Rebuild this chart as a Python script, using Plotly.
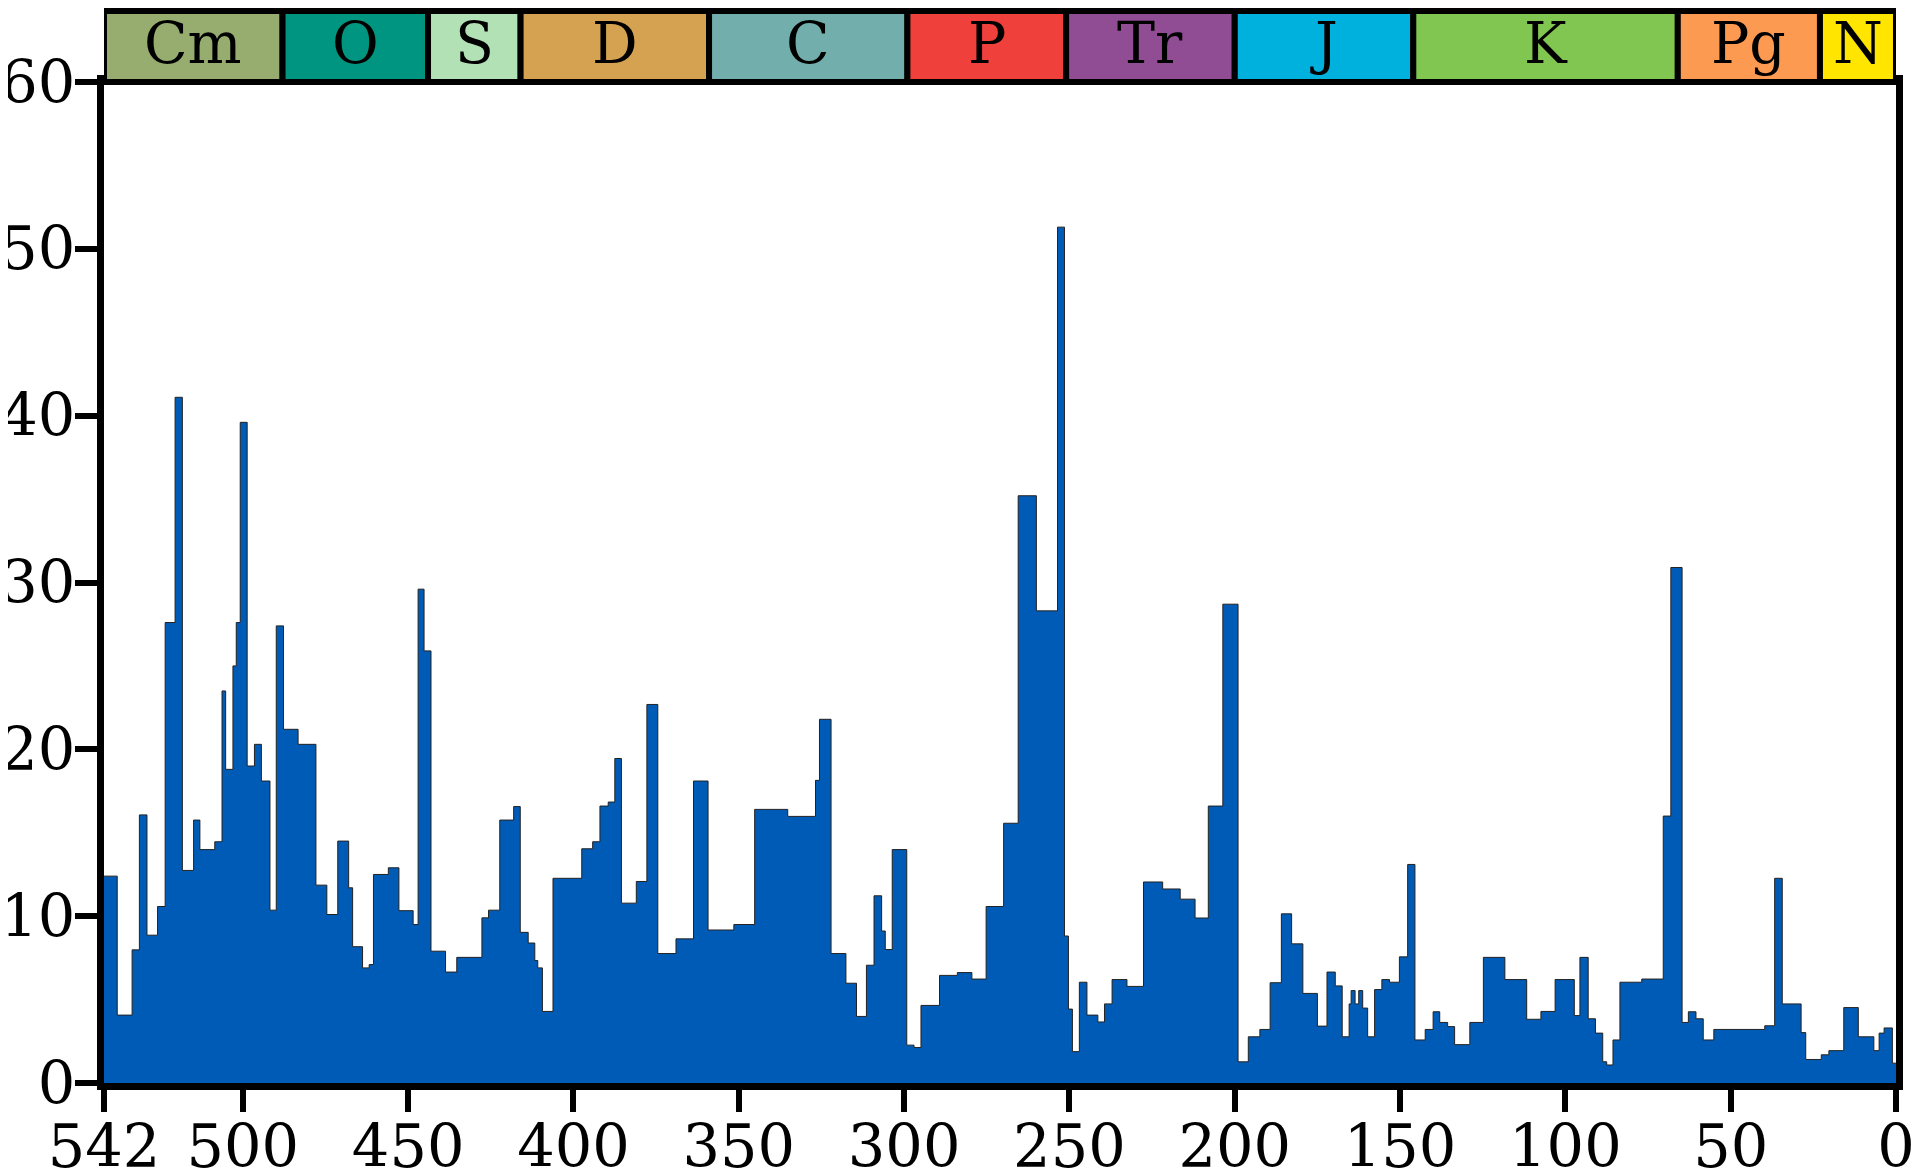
import plotly.graph_objects as go

# Step boundaries (older edge of each interval, Ma) and extinction intensity (%)
ages = [542, 538, 533.5, 531.3, 529, 525.8, 523.5, 520.5, 518.3, 514.9, 513, 508.5, 506.3, 505.2,
        503, 502, 500.8, 498.7, 496.5, 494.4, 491.8, 489.9, 487.7, 483.3, 477.9, 474.6, 471.3,
        468, 466.8, 463.8, 461.8, 460.5, 456, 452.8, 448.5, 447, 445.2, 443.1, 438.7, 435.3,
        427.7, 425.7, 422.3, 418.1, 416.1, 413.7, 411.7, 410.8, 409.4, 406.2,
        397.5, 394.2, 392, 389.5, 387.5, 385.5, 381, 377.8, 374.5, 369, 363.7, 359.3, 351.5,
        345.2, 335.2, 326.8, 325.6, 322.1, 317.6, 314.4, 311.4, 309.1, 306.8, 305.7, 303.6,
        299.2, 297, 294.9, 289.3, 283.9, 279.5, 275.2,
        269.9, 265.5, 260, 253.6, 251.5, 250.3, 249.1, 247, 244.7, 241.4, 239.4, 237.1, 232.6,
        227.6, 221.8, 216.5, 212, 208, 203.6, 199, 195.9, 192.4, 189.3, 185.9, 182.8, 179.4,
        175, 172.1, 169.6, 167.5, 165.4, 164.8, 163.6, 162.5, 161.3, 159.8, 157.7, 155.5,
        153.2, 150.2, 147.7, 145.5, 142.4, 140, 138,
        135.6, 133.5, 128.9, 124.8, 118.3, 111.7, 107.4, 103.1, 97.3, 95.6, 93.1, 90.9, 88.7,
        87.5, 85.6, 83.5, 76.9, 70.4, 68.1, 64.7, 62.8, 60.5, 58.3, 55.1, 39.7, 36.7, 34.4,
        28.7, 27.3, 22.6, 20.3, 15.8, 11.4, 6.7, 5.1, 3.6, 1.1, 0]
intensity = [12.4, 4.07, 7.98, 16.07, 8.86, 10.58, 27.6, 41.1, 12.74, 15.76, 13.99, 14.46, 23.5, 18.8,
             25.0, 27.6, 39.6, 19.0, 20.3, 18.1, 10.36, 27.4, 21.2, 20.3, 11.86, 10.1, 14.5,
             11.7, 8.17, 6.9, 7.1, 12.5, 12.9, 10.33, 9.5, 29.6, 25.9, 7.9, 6.65, 7.53,
             9.9, 10.36, 15.76, 16.57, 9.03, 8.39, 7.34, 6.9, 4.29, 12.27,
             14.04, 14.46, 16.6, 16.84, 19.45, 10.78, 12.08, 22.69, 7.76, 8.64, 18.1, 9.17, 9.5,
             16.4, 15.98, 18.14, 21.8, 7.76, 5.98, 3.99, 7.06, 11.22, 9.11, 8.0, 13.99,
             2.27, 2.13, 4.65, 6.45, 6.62, 6.23, 10.58,
             15.57, 35.2, 28.3, 51.3, 8.81, 4.43, 1.88, 6.04, 4.07, 3.66, 4.74, 6.2, 5.79,
             12.05, 11.63, 11.02, 9.89, 16.6, 28.7, 1.27, 2.77, 3.21, 6.01, 10.14, 8.34, 5.37,
             3.41, 6.65, 5.82, 2.77, 4.74, 5.54, 4.74, 5.54, 4.49, 2.77, 5.6, 6.2,
             6.04, 7.56, 13.1, 2.58, 3.21, 4.27, 3.63,
             3.38, 2.3, 3.63, 7.53, 6.2, 3.82, 4.29, 6.2, 4.04, 7.53, 3.85, 2.99, 1.27,
             1.08, 2.58, 6.04, 6.23, 16.0, 30.9, 3.63, 4.27, 3.85, 2.58, 3.21, 3.43, 12.27, 4.74,
             3.02, 1.41, 1.69, 1.94, 4.52, 2.77, 1.94, 2.99, 3.3, 1.19, 1.19]

# Geological periods
period_names = ["Cm", "O", "S", "D", "C", "P", "Tr", "J", "K", "Pg", "N"]
period_start = [542, 488, 444, 416, 359, 299, 251, 200, 146, 66, 23]
period_end = [488, 444, 416, 359, 299, 251, 200, 146, 66, 23, 0]
period_colors = ["#96AD6F", "#009580", "#B3E1B6", "#D4A251", "#72AFAC", "#F0403C",
                 "#914D94", "#00B0DD", "#80C650", "#FD9A52", "#FFE500"]

x_ticks = [542, 500, 450, 400, 350, 300, 250, 200, 150, 100, 50, 0]
y_ticks = [0, 10, 20, 30, 40, 50, 60]

FONT = "DejaVu Serif"

fig = go.Figure()
fig.add_trace(go.Scatter(
    x=ages, y=intensity, mode="lines", line_shape="hv",
    line=dict(color="#222222", width=1),
    fill="tozeroy", fillcolor="#005BB7", hoverinfo="skip", showlegend=False,
))

bar_top = 1.0709
for name, s, e, c in zip(period_names, period_start, period_end, period_colors):
    fig.add_shape(type="rect", xref="x", yref="paper", x0=s, x1=e, y0=1, y1=bar_top,
                  fillcolor=c, line=dict(color="black", width=6), layer="above")
    fig.add_annotation(x=(s + e) / 2, y=(1 + bar_top) / 2, xref="x", yref="paper",
                       text=name, showarrow=False, yanchor="middle", yshift=4,
                       font=dict(family=FONT, size=57, color="black"))

axis_common = dict(showline=True, linewidth=7, linecolor="black", mirror=True,
                   ticks="outside", ticklen=22, tickwidth=6, tickcolor="black",
                   showgrid=False, zeroline=False, automargin=False,
                   tickfont=dict(family=FONT, size=59, color="black"))

fig.update_xaxes(range=[542, 0], tickmode="array", tickvals=x_ticks,
                 ticktext=[str(t) for t in x_ticks], ticklabelstandoff=-16, **axis_common)
fig.update_yaxes(range=[0, 60], tickmode="array", tickvals=y_ticks,
                 ticktext=[str(t) for t in y_ticks], ticklabelstandoff=-12, **axis_common)

fig.update_layout(
    width=1920, height=1172,
    margin=dict(l=96, r=32, t=74, b=97),
    plot_bgcolor="white", paper_bgcolor="white",
)

fig.write_html("out.html")
